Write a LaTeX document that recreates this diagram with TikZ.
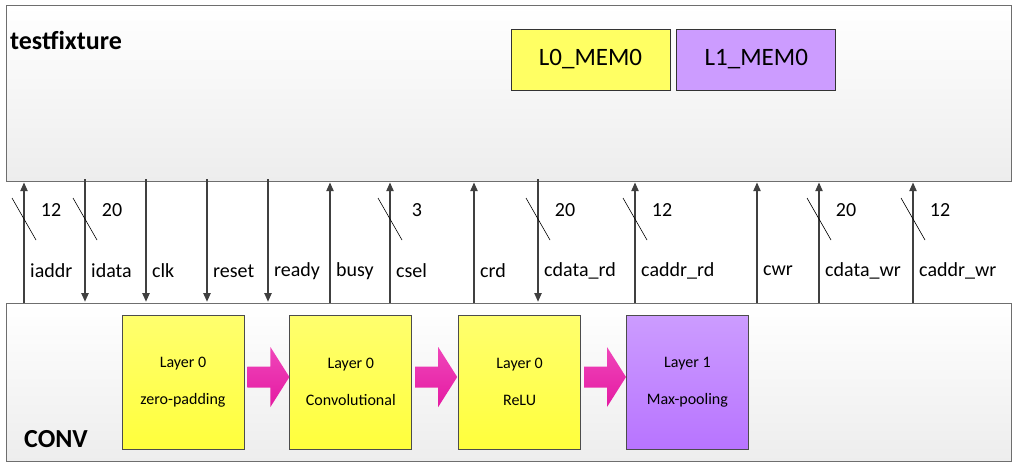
\documentclass[tikz,border=0pt]{standalone}
\usepackage{fontspec}
\setmainfont{Carlito}
\usetikzlibrary{arrows.meta,positioning,calc}

\definecolor{frame}{HTML}{6E6E6E}
\definecolor{boxbot}{HTML}{EDEDED}
\definecolor{wire}{HTML}{404040}
\definecolor{yellowA}{HTML}{FFFF6E}
\definecolor{yellowB}{HTML}{FFFF3C}
\definecolor{purpleA}{HTML}{CC9CFF}
\definecolor{purpleB}{HTML}{B874FF}
\definecolor{pinkA}{HTML}{F046BA}
\definecolor{pinkB}{HTML}{E41AA2}

\tikzset{
  outer/.style={draw=frame, line width=1.2pt, top color=white, bottom color=boxbot,
    minimum width=1005pt, inner sep=0pt, anchor=north west},
  memory/.style={draw=black!80, line width=0.8pt, minimum width=159pt, minimum height=61pt,
    inner sep=0pt, font=\fontsize{25}{28}\selectfont},
  layer/.style={draw=black!70, line width=0.8pt, minimum width=122pt, minimum height=134pt,
    inner sep=0pt, align=center, font=\fontsize{16}{18}\selectfont},
  title/.style={font=\fontsize{26}{30}\selectfont\bfseries, inner sep=0pt, anchor=base west},
  sigup/.style={draw=wire, line width=2.2pt, -{Triangle[length=9pt,width=7pt]}},
  sigdown/.style={draw=wire, line width=2.2pt, -{Triangle[length=9pt,width=7pt]}, shorten >=1pt},
  bus/.style={draw=black, line width=0.6pt},
  sigtext/.style={font=\fontsize{20}{22}\selectfont, inner sep=0pt},
  flow/.style={top color=pinkA, bottom color=pinkB, draw=none}
}

\begin{document}
\begin{tikzpicture}[x=1pt, y=-1pt]
  \useasboundingbox (0,0) rectangle (1019,468);

  % testfixture with the two memories
  \node[outer, minimum height=176pt] (tf) at (6,5) {};
  \node[title] (tftitle) at (10,50) {testfixture};
  \node[memory, fill=yellowA!90!yellow] (l0mem) at (590.5,59.5) {L0\_MEM0};
  \node[memory, fill=purpleA, right=6pt of l0mem] (l1mem) {L1\_MEM0};

  % CONV with its four layers
  \node[outer, minimum height=158pt] (conv) at (6,303) {};
  \node[title] (convtitle) at (24,447) {CONV};
  \node[layer, top color=yellowA, bottom color=yellowB] (pad) at (183,382) {Layer 0\\[19pt]zero-padding};
  \node[layer, top color=yellowA, bottom color=yellowB, right=45pt of pad] (cnv) {Layer 0\\[19pt]Convolutional};
  \node[layer, top color=yellowA, bottom color=yellowB, right=46pt of cnv] (relu) {Layer 0\\[19pt]ReLU};
  \node[layer, top color=purpleA, bottom color=purpleB, right=45pt of relu] (pool) {Layer 1\\[19pt]Max-pooling};

  % data flow between the layers
  \foreach \a in {pad,cnv,relu}
    \path[flow] (\a.east) ++(3,-5) ++(0,-10.5) -- ++(23,0) -- ++(0,-19.5) -- ++(19,30)
      -- ++(-19,30) -- ++(0,-19.5) -- ++(-23,0) -- cycle;

  % signals from CONV to testfixture
  \foreach \x in {24,330,390,474,635,757,819,913}
    \draw[sigup] (conv.north -| \x,0) -- (tf.south -| \x,0);
  % signals from testfixture to CONV
  \foreach \x in {85,146,207,268,538}
    \draw[sigdown] ([yshift=3pt]tf.south -| \x,0) -- (conv.north -| \x,0);

  % signal names
  \foreach \x/\sig in {24/iaddr, 85/idata, 146/clk, 207/reset, 268/ready, 330/busy, 390/csel,
      474/crd, 538/cdata\_rd, 635/caddr\_rd, 757/cwr, 819/cdata\_wr, 913/caddr\_wr}
    \node[sigtext, anchor=west] at ({\x+6},271) {\sig};

  % bus widths
  \foreach \x/\w in {24/12, 85/20, 390/3, 538/20, 635/12, 819/20, 913/12} {
    \draw[bus] ({\x-12},198) -- ({\x+12},240);
    \node[sigtext] at ({\x+27},210) {\w};
  }
\end{tikzpicture}
\end{document}
